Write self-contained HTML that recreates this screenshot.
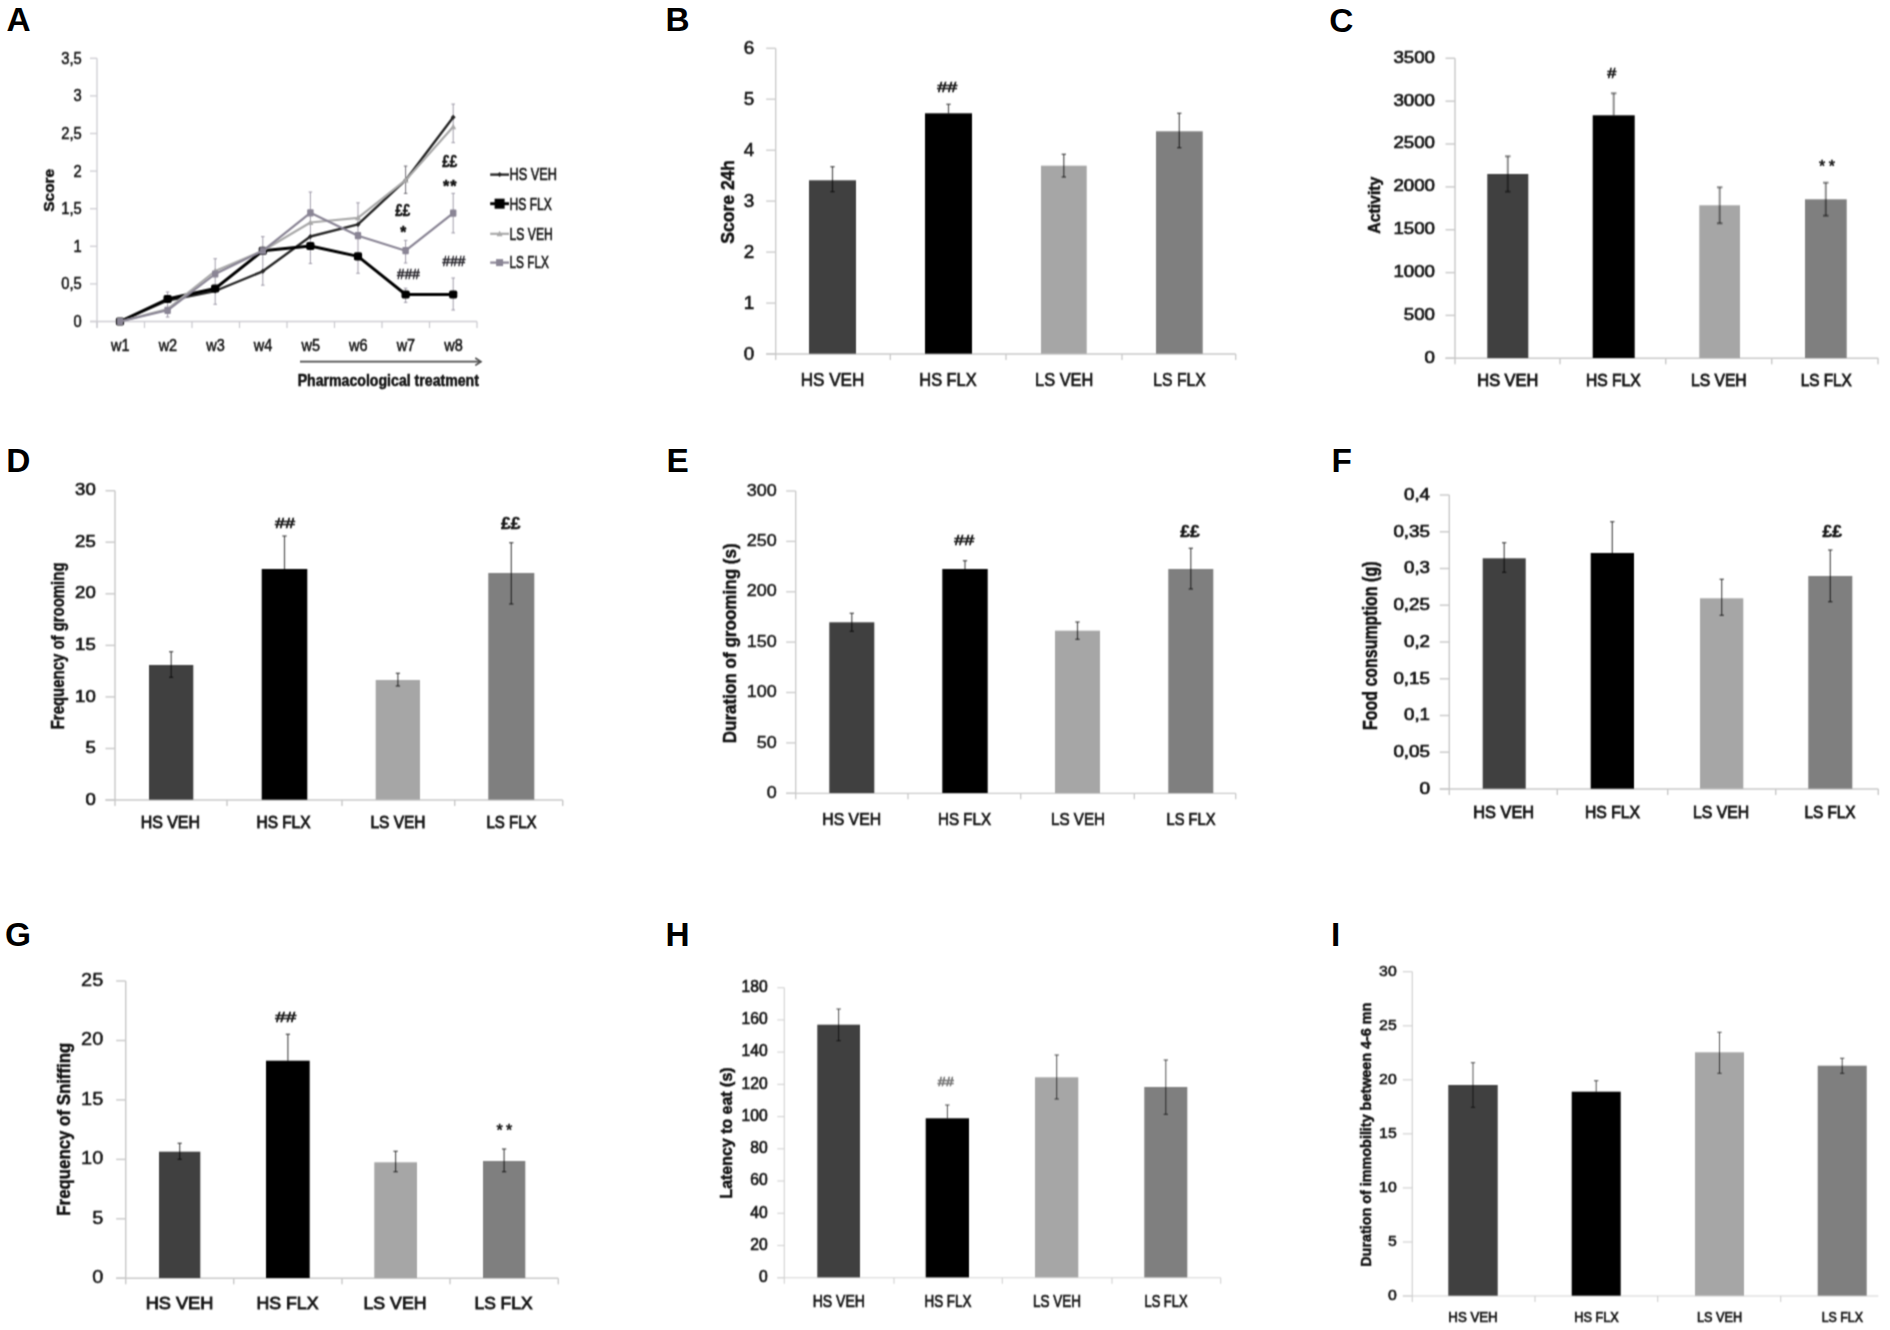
<!DOCTYPE html>
<html lang="en"><head><meta charset="utf-8"><title>Figure: behavioural effects of fluoxetine in HS and LS mice</title>
<style>html,body{margin:0;padding:0;background:#fff;}body{width:1890px;height:1330px;overflow:hidden;}svg{display:block;font-family:'Liberation Sans', Arial, sans-serif;}text{white-space:pre;}</style>
</head><body>
<svg width="1890" height="1330" viewBox="0 0 1890 1330">
<rect x="-10" y="-10" width="1910" height="1350" fill="#fff"/>
<defs><filter id="soft" x="0" y="0" width="1890" height="1330" filterUnits="userSpaceOnUse" color-interpolation-filters="sRGB"><feConvolveMatrix order="3" kernelMatrix="1 3 1 2 6 2 1 3 1" edgeMode="duplicate" preserveAlpha="true"/></filter></defs>
<g filter="url(#soft)">
<rect x="-10" y="-10" width="1910" height="1350" fill="#fff"/>
<g id="panelA">
<line x1="97.0" y1="58.3" x2="97.0" y2="328.0" stroke="#cdccd2" stroke-width="1.3" />
<line x1="90.0" y1="321.5" x2="477.0" y2="321.5" stroke="#cdccd2" stroke-width="1.3" />
<line x1="90.0" y1="58.3" x2="97.0" y2="58.3" stroke="#cdccd2" stroke-width="1.3" />
<text x="81.8" y="63.8" font-size="16.72" text-anchor="end" fill="#151515" stroke="#151515" stroke-width="0.55" textLength="20.5" lengthAdjust="spacingAndGlyphs">3,5</text>
<line x1="90.0" y1="95.9" x2="97.0" y2="95.9" stroke="#cdccd2" stroke-width="1.3" />
<text x="81.8" y="101.4" font-size="16.72" text-anchor="end" fill="#151515" stroke="#151515" stroke-width="0.55" textLength="8.2" lengthAdjust="spacingAndGlyphs">3</text>
<line x1="90.0" y1="133.5" x2="97.0" y2="133.5" stroke="#cdccd2" stroke-width="1.3" />
<text x="81.8" y="138.9" font-size="16.72" text-anchor="end" fill="#151515" stroke="#151515" stroke-width="0.55" textLength="20.5" lengthAdjust="spacingAndGlyphs">2,5</text>
<line x1="90.0" y1="171.1" x2="97.0" y2="171.1" stroke="#cdccd2" stroke-width="1.3" />
<text x="81.8" y="176.5" font-size="16.72" text-anchor="end" fill="#151515" stroke="#151515" stroke-width="0.55" textLength="8.2" lengthAdjust="spacingAndGlyphs">2</text>
<line x1="90.0" y1="208.7" x2="97.0" y2="208.7" stroke="#cdccd2" stroke-width="1.3" />
<text x="81.8" y="214.1" font-size="16.72" text-anchor="end" fill="#151515" stroke="#151515" stroke-width="0.55" textLength="20.5" lengthAdjust="spacingAndGlyphs">1,5</text>
<line x1="90.0" y1="246.3" x2="97.0" y2="246.3" stroke="#cdccd2" stroke-width="1.3" />
<text x="81.8" y="251.8" font-size="16.72" text-anchor="end" fill="#151515" stroke="#151515" stroke-width="0.55" textLength="8.2" lengthAdjust="spacingAndGlyphs">1</text>
<line x1="90.0" y1="283.9" x2="97.0" y2="283.9" stroke="#cdccd2" stroke-width="1.3" />
<text x="81.8" y="289.3" font-size="16.72" text-anchor="end" fill="#151515" stroke="#151515" stroke-width="0.55" textLength="20.5" lengthAdjust="spacingAndGlyphs">0,5</text>
<line x1="90.0" y1="321.5" x2="97.0" y2="321.5" stroke="#cdccd2" stroke-width="1.3" />
<text x="81.8" y="326.9" font-size="16.72" text-anchor="end" fill="#151515" stroke="#151515" stroke-width="0.55" textLength="8.2" lengthAdjust="spacingAndGlyphs">0</text>
<line x1="97.0" y1="321.5" x2="97.0" y2="328.0" stroke="#cdccd2" stroke-width="1.3" />
<line x1="144.5" y1="321.5" x2="144.5" y2="328.0" stroke="#cdccd2" stroke-width="1.3" />
<line x1="192.0" y1="321.5" x2="192.0" y2="328.0" stroke="#cdccd2" stroke-width="1.3" />
<line x1="239.5" y1="321.5" x2="239.5" y2="328.0" stroke="#cdccd2" stroke-width="1.3" />
<line x1="287.0" y1="321.5" x2="287.0" y2="328.0" stroke="#cdccd2" stroke-width="1.3" />
<line x1="334.5" y1="321.5" x2="334.5" y2="328.0" stroke="#cdccd2" stroke-width="1.3" />
<line x1="382.0" y1="321.5" x2="382.0" y2="328.0" stroke="#cdccd2" stroke-width="1.3" />
<line x1="429.5" y1="321.5" x2="429.5" y2="328.0" stroke="#cdccd2" stroke-width="1.3" />
<line x1="477.0" y1="321.5" x2="477.0" y2="328.0" stroke="#cdccd2" stroke-width="1.3" />
<text x="120.3" y="351.0" font-size="16.42" text-anchor="middle" fill="#151515" stroke="#151515" stroke-width="0.55" textLength="18.5" lengthAdjust="spacingAndGlyphs">w1</text>
<text x="167.9" y="351.0" font-size="16.42" text-anchor="middle" fill="#151515" stroke="#151515" stroke-width="0.55" textLength="18.5" lengthAdjust="spacingAndGlyphs">w2</text>
<text x="215.5" y="351.0" font-size="16.42" text-anchor="middle" fill="#151515" stroke="#151515" stroke-width="0.55" textLength="18.5" lengthAdjust="spacingAndGlyphs">w3</text>
<text x="263.1" y="351.0" font-size="16.42" text-anchor="middle" fill="#151515" stroke="#151515" stroke-width="0.55" textLength="18.5" lengthAdjust="spacingAndGlyphs">w4</text>
<text x="310.7" y="351.0" font-size="16.42" text-anchor="middle" fill="#151515" stroke="#151515" stroke-width="0.55" textLength="18.5" lengthAdjust="spacingAndGlyphs">w5</text>
<text x="358.3" y="351.0" font-size="16.42" text-anchor="middle" fill="#151515" stroke="#151515" stroke-width="0.55" textLength="18.5" lengthAdjust="spacingAndGlyphs">w6</text>
<text x="405.9" y="351.0" font-size="16.42" text-anchor="middle" fill="#151515" stroke="#151515" stroke-width="0.55" textLength="18.5" lengthAdjust="spacingAndGlyphs">w7</text>
<text x="453.5" y="351.0" font-size="16.42" text-anchor="middle" fill="#151515" stroke="#151515" stroke-width="0.55" textLength="18.5" lengthAdjust="spacingAndGlyphs">w8</text>
<text transform="translate(54.0 190.3) rotate(-90)" x="0" y="0" font-size="14.53" text-anchor="middle" fill="#111" font-weight="bold" stroke="#111" stroke-width="0.5" textLength="42.7" lengthAdjust="spacingAndGlyphs">Score</text>
<line x1="300.0" y1="361.7" x2="479.5" y2="361.7" stroke="#4a4a4a" stroke-width="1.7" />
<path d="M475.3 358 L481 361.7 L475.3 365.4" fill="none" stroke="#4a4a4a" stroke-width="1.6"/>
<text x="388.3" y="385.5" font-size="15.99" text-anchor="middle" fill="#111" font-weight="bold" stroke="#111" stroke-width="0.5" textLength="181.3" lengthAdjust="spacingAndGlyphs">Pharmacological treatment</text>
<line x1="167.6" y1="292.0" x2="167.6" y2="317.0" stroke="#8d8899" stroke-width="1.1" opacity="0.75"/>
<line x1="165.8" y1="292.0" x2="169.4" y2="292.0" stroke="#8d8899" stroke-width="1.1" opacity="0.75"/>
<line x1="165.8" y1="317.0" x2="169.4" y2="317.0" stroke="#8d8899" stroke-width="1.1" opacity="0.75"/>
<line x1="215.2" y1="258.7" x2="215.2" y2="304.3" stroke="#8d8899" stroke-width="1.1" opacity="0.75"/>
<line x1="213.4" y1="258.7" x2="217.0" y2="258.7" stroke="#8d8899" stroke-width="1.1" opacity="0.75"/>
<line x1="213.4" y1="304.3" x2="217.0" y2="304.3" stroke="#8d8899" stroke-width="1.1" opacity="0.75"/>
<line x1="262.8" y1="236.6" x2="262.8" y2="285.2" stroke="#8d8899" stroke-width="1.1" opacity="0.75"/>
<line x1="261.0" y1="236.6" x2="264.6" y2="236.6" stroke="#8d8899" stroke-width="1.1" opacity="0.75"/>
<line x1="261.0" y1="285.2" x2="264.6" y2="285.2" stroke="#8d8899" stroke-width="1.1" opacity="0.75"/>
<line x1="310.4" y1="192.0" x2="310.4" y2="263.5" stroke="#8d8899" stroke-width="1.1" opacity="0.75"/>
<line x1="308.6" y1="192.0" x2="312.2" y2="192.0" stroke="#8d8899" stroke-width="1.1" opacity="0.75"/>
<line x1="308.6" y1="263.5" x2="312.2" y2="263.5" stroke="#8d8899" stroke-width="1.1" opacity="0.75"/>
<line x1="358.0" y1="202.8" x2="358.0" y2="273.3" stroke="#8d8899" stroke-width="1.1" opacity="0.75"/>
<line x1="356.2" y1="202.8" x2="359.8" y2="202.8" stroke="#8d8899" stroke-width="1.1" opacity="0.75"/>
<line x1="356.2" y1="273.3" x2="359.8" y2="273.3" stroke="#8d8899" stroke-width="1.1" opacity="0.75"/>
<line x1="405.6" y1="166.1" x2="405.6" y2="193.4" stroke="#55525c" stroke-width="1.1" opacity="0.75"/>
<line x1="403.8" y1="166.1" x2="407.4" y2="166.1" stroke="#55525c" stroke-width="1.1" opacity="0.75"/>
<line x1="403.8" y1="193.4" x2="407.4" y2="193.4" stroke="#55525c" stroke-width="1.1" opacity="0.75"/>
<line x1="405.6" y1="240.4" x2="405.6" y2="263.0" stroke="#8d8899" stroke-width="1.1" opacity="0.75"/>
<line x1="403.8" y1="240.4" x2="407.4" y2="240.4" stroke="#8d8899" stroke-width="1.1" opacity="0.75"/>
<line x1="403.8" y1="263.0" x2="407.4" y2="263.0" stroke="#8d8899" stroke-width="1.1" opacity="0.75"/>
<line x1="405.6" y1="288.3" x2="405.6" y2="302.4" stroke="#8d8899" stroke-width="1.1" opacity="0.75"/>
<line x1="403.8" y1="288.3" x2="407.4" y2="288.3" stroke="#8d8899" stroke-width="1.1" opacity="0.75"/>
<line x1="403.8" y1="302.4" x2="407.4" y2="302.4" stroke="#8d8899" stroke-width="1.1" opacity="0.75"/>
<line x1="453.2" y1="104.1" x2="453.2" y2="142.6" stroke="#8d8899" stroke-width="1.1" opacity="0.75"/>
<line x1="451.4" y1="104.1" x2="455.0" y2="104.1" stroke="#8d8899" stroke-width="1.1" opacity="0.75"/>
<line x1="451.4" y1="142.6" x2="455.0" y2="142.6" stroke="#8d8899" stroke-width="1.1" opacity="0.75"/>
<line x1="453.2" y1="193.4" x2="453.2" y2="232.9" stroke="#8d8899" stroke-width="1.1" opacity="0.75"/>
<line x1="451.4" y1="193.4" x2="455.0" y2="193.4" stroke="#8d8899" stroke-width="1.1" opacity="0.75"/>
<line x1="451.4" y1="232.9" x2="455.0" y2="232.9" stroke="#8d8899" stroke-width="1.1" opacity="0.75"/>
<line x1="453.2" y1="278.0" x2="453.2" y2="310.0" stroke="#8d8899" stroke-width="1.1" opacity="0.75"/>
<line x1="451.4" y1="278.0" x2="455.0" y2="278.0" stroke="#8d8899" stroke-width="1.1" opacity="0.75"/>
<line x1="451.4" y1="310.0" x2="455.0" y2="310.0" stroke="#8d8899" stroke-width="1.1" opacity="0.75"/>
<polyline points="120.0,321.5 167.6,300.5 215.2,291.0 262.8,271.3 310.4,236.5 358.0,224.4 405.6,180.2 453.2,117.3" fill="none" stroke="#262626" stroke-width="2.4" stroke-linejoin="round"/>
<path d="M117.5 321.5 L120.0 319.0 L122.5 321.5 L120.0 324.0 Z" fill="#262626"/>
<path d="M165.1 300.5 L167.6 298.0 L170.1 300.5 L167.6 303.0 Z" fill="#262626"/>
<path d="M212.7 291.0 L215.2 288.5 L217.7 291.0 L215.2 293.5 Z" fill="#262626"/>
<path d="M260.3 271.3 L262.8 268.8 L265.3 271.3 L262.8 273.8 Z" fill="#262626"/>
<path d="M307.9 236.5 L310.4 234.0 L312.9 236.5 L310.4 239.0 Z" fill="#262626"/>
<path d="M355.5 224.4 L358.0 221.9 L360.5 224.4 L358.0 226.9 Z" fill="#262626"/>
<path d="M403.1 180.2 L405.6 177.7 L408.1 180.2 L405.6 182.7 Z" fill="#262626"/>
<path d="M450.7 117.3 L453.2 114.8 L455.7 117.3 L453.2 119.8 Z" fill="#262626"/>
<polyline points="120.0,321.5 167.6,299.0 215.2,288.5 262.8,250.8 310.4,246.0 358.0,256.4 405.6,294.5 453.2,294.5" fill="none" stroke="#000" stroke-width="2.9" stroke-linejoin="round"/>
<rect x="115.9" y="317.4" width="8.2" height="8.2" rx="1.8" fill="#000"/>
<rect x="163.5" y="294.9" width="8.2" height="8.2" rx="1.8" fill="#000"/>
<rect x="211.1" y="284.4" width="8.2" height="8.2" rx="1.8" fill="#000"/>
<rect x="258.7" y="246.7" width="8.2" height="8.2" rx="1.8" fill="#000"/>
<rect x="306.3" y="241.9" width="8.2" height="8.2" rx="1.8" fill="#000"/>
<rect x="353.9" y="252.3" width="8.2" height="8.2" rx="1.8" fill="#000"/>
<rect x="401.5" y="290.4" width="8.2" height="8.2" rx="1.8" fill="#000"/>
<rect x="449.1" y="290.4" width="8.2" height="8.2" rx="1.8" fill="#000"/>
<polyline points="120.0,321.5 167.6,309.0 215.2,271.0 262.8,250.8 310.4,222.5 358.0,217.8 405.6,180.2 453.2,126.7" fill="none" stroke="#a9a9a9" stroke-width="2.2" stroke-linejoin="round"/>
<path d="M117.0 324.0 L123.0 324.0 L120.0 318.5 Z" fill="#a9a9a9"/>
<path d="M164.6 311.5 L170.6 311.5 L167.6 306.0 Z" fill="#a9a9a9"/>
<path d="M212.2 273.5 L218.2 273.5 L215.2 268.0 Z" fill="#a9a9a9"/>
<path d="M259.8 253.3 L265.8 253.3 L262.8 247.8 Z" fill="#a9a9a9"/>
<path d="M307.4 225.0 L313.4 225.0 L310.4 219.5 Z" fill="#a9a9a9"/>
<path d="M355.0 220.3 L361.0 220.3 L358.0 214.8 Z" fill="#a9a9a9"/>
<path d="M402.6 182.7 L408.6 182.7 L405.6 177.2 Z" fill="#a9a9a9"/>
<path d="M450.2 129.2 L456.2 129.2 L453.2 123.7 Z" fill="#a9a9a9"/>
<polyline points="120.0,321.5 167.6,310.3 215.2,274.0 262.8,250.8 310.4,212.8 358.0,235.7 405.6,250.7 453.2,213.1" fill="none" stroke="#8a8595" stroke-width="2.2" stroke-linejoin="round"/>
<rect x="116.8" y="317.9" width="6.4" height="7.2" rx="1" fill="#8a8595"/>
<rect x="164.4" y="306.7" width="6.4" height="7.2" rx="1" fill="#8a8595"/>
<rect x="212.0" y="270.4" width="6.4" height="7.2" rx="1" fill="#8a8595"/>
<rect x="259.6" y="247.2" width="6.4" height="7.2" rx="1" fill="#8a8595"/>
<rect x="307.2" y="209.2" width="6.4" height="7.2" rx="1" fill="#8a8595"/>
<rect x="354.8" y="232.1" width="6.4" height="7.2" rx="1" fill="#8a8595"/>
<rect x="402.4" y="247.1" width="6.4" height="7.2" rx="1" fill="#8a8595"/>
<rect x="450.0" y="209.5" width="6.4" height="7.2" rx="1" fill="#8a8595"/>
<text x="449.8" y="167.2" font-size="16.72" text-anchor="middle" fill="#111" font-weight="bold" stroke="#111" stroke-width="0.5" textLength="15.0" lengthAdjust="spacingAndGlyphs">££</text>
<text x="450.3" y="191.6" font-size="15.99" text-anchor="middle" fill="#111" font-weight="bold" stroke="#111" stroke-width="0.5" letter-spacing="1.03">**</text>
<text x="402.8" y="216.1" font-size="16.72" text-anchor="middle" fill="#111" font-weight="bold" stroke="#111" stroke-width="0.5" textLength="15.0" lengthAdjust="spacingAndGlyphs">££</text>
<text x="403.2" y="237.9" font-size="15.99" text-anchor="middle" fill="#111" font-weight="bold" stroke="#111" stroke-width="0.5" textLength="6.0" lengthAdjust="spacingAndGlyphs">*</text>
<text x="408.4" y="279.1" font-size="14.24" text-anchor="middle" fill="#25232a" stroke="#25232a" stroke-width="0.5" textLength="22.6" lengthAdjust="spacingAndGlyphs">###</text>
<text x="453.9" y="265.6" font-size="14.24" text-anchor="middle" fill="#25232a" stroke="#25232a" stroke-width="0.5" textLength="22.6" lengthAdjust="spacingAndGlyphs">###</text>
<line x1="490.2" y1="174.6" x2="509.0" y2="174.6" stroke="#262626" stroke-width="2.4" />
<path d="M497.1 174.6 L499.6 172.1 L502.1 174.6 L499.6 177.1 Z" fill="#262626"/>
<text x="509.5" y="180.4" font-size="16.86" text-anchor="start" fill="#111" stroke="#111" stroke-width="0.6" textLength="47.4" lengthAdjust="spacingAndGlyphs">HS VEH</text>
<line x1="490.2" y1="203.7" x2="509.0" y2="203.7" stroke="#000" stroke-width="2.9" />
<rect x="494.6" y="198.7" width="10.0" height="10.0" fill="#000"/>
<text x="509.5" y="209.5" font-size="16.86" text-anchor="start" fill="#111" stroke="#111" stroke-width="0.6" textLength="42.3" lengthAdjust="spacingAndGlyphs">HS FLX</text>
<line x1="490.2" y1="233.8" x2="509.0" y2="233.8" stroke="#a9a9a9" stroke-width="2.2" />
<path d="M496.6 236.3 L502.6 236.3 L499.6 230.8 Z" fill="#a9a9a9"/>
<text x="509.5" y="239.6" font-size="16.86" text-anchor="start" fill="#111" stroke="#111" stroke-width="0.6" textLength="43.3" lengthAdjust="spacingAndGlyphs">LS VEH</text>
<line x1="490.2" y1="262.6" x2="509.0" y2="262.6" stroke="#8a8595" stroke-width="2.2" />
<rect x="496.1" y="259.1" width="7.0" height="7.0" fill="#8a8595"/>
<text x="509.5" y="268.4" font-size="16.86" text-anchor="start" fill="#111" stroke="#111" stroke-width="0.6" textLength="39.5" lengthAdjust="spacingAndGlyphs">LS FLX</text>
</g>
<g id="panelB">
<line x1="775.7" y1="48.3" x2="775.7" y2="360.0" stroke="#c9c9c9" stroke-width="1.3" />
<line x1="766.2" y1="354.0" x2="1235.7" y2="354.0" stroke="#c9c9c9" stroke-width="1.3" />
<line x1="766.2" y1="48.3" x2="775.7" y2="48.3" stroke="#c9c9c9" stroke-width="1.3" />
<text x="754.3" y="53.9" font-size="19.19" text-anchor="end" fill="#151515" stroke="#151515" stroke-width="0.6" textLength="10.5" lengthAdjust="spacingAndGlyphs">6</text>
<line x1="766.2" y1="99.2" x2="775.7" y2="99.2" stroke="#c9c9c9" stroke-width="1.3" />
<text x="754.3" y="104.8" font-size="19.19" text-anchor="end" fill="#151515" stroke="#151515" stroke-width="0.6" textLength="10.5" lengthAdjust="spacingAndGlyphs">5</text>
<line x1="766.2" y1="150.2" x2="775.7" y2="150.2" stroke="#c9c9c9" stroke-width="1.3" />
<text x="754.3" y="155.8" font-size="19.19" text-anchor="end" fill="#151515" stroke="#151515" stroke-width="0.6" textLength="10.5" lengthAdjust="spacingAndGlyphs">4</text>
<line x1="766.2" y1="201.1" x2="775.7" y2="201.1" stroke="#c9c9c9" stroke-width="1.3" />
<text x="754.3" y="206.7" font-size="19.19" text-anchor="end" fill="#151515" stroke="#151515" stroke-width="0.6" textLength="10.5" lengthAdjust="spacingAndGlyphs">3</text>
<line x1="766.2" y1="252.1" x2="775.7" y2="252.1" stroke="#c9c9c9" stroke-width="1.3" />
<text x="754.3" y="257.7" font-size="19.19" text-anchor="end" fill="#151515" stroke="#151515" stroke-width="0.6" textLength="10.5" lengthAdjust="spacingAndGlyphs">2</text>
<line x1="766.2" y1="303.1" x2="775.7" y2="303.1" stroke="#c9c9c9" stroke-width="1.3" />
<text x="754.3" y="308.7" font-size="19.19" text-anchor="end" fill="#151515" stroke="#151515" stroke-width="0.6" textLength="10.5" lengthAdjust="spacingAndGlyphs">1</text>
<line x1="766.2" y1="354.0" x2="775.7" y2="354.0" stroke="#c9c9c9" stroke-width="1.3" />
<text x="754.3" y="359.6" font-size="19.19" text-anchor="end" fill="#151515" stroke="#151515" stroke-width="0.6" textLength="10.5" lengthAdjust="spacingAndGlyphs">0</text>
<line x1="890.3" y1="354.0" x2="890.3" y2="360.0" stroke="#c9c9c9" stroke-width="1.3" />
<line x1="1006.0" y1="354.0" x2="1006.0" y2="360.0" stroke="#c9c9c9" stroke-width="1.3" />
<line x1="1122.0" y1="354.0" x2="1122.0" y2="360.0" stroke="#c9c9c9" stroke-width="1.3" />
<line x1="1235.7" y1="354.0" x2="1235.7" y2="360.0" stroke="#c9c9c9" stroke-width="1.3" />
<rect x="809.0" y="180.3" width="47.0" height="173.4" fill="#404040"/>
<line x1="832.5" y1="166.7" x2="832.5" y2="191.7" stroke="#000" stroke-width="1.3" opacity="0.62"/>
<line x1="830.3" y1="166.7" x2="834.7" y2="166.7" stroke="#000" stroke-width="1.3" opacity="0.62"/>
<line x1="830.3" y1="191.7" x2="834.7" y2="191.7" stroke="#000" stroke-width="1.3" opacity="0.62"/>
<rect x="925.0" y="113.3" width="47.0" height="240.4" fill="#000000"/>
<line x1="948.5" y1="104.3" x2="948.5" y2="113.3" stroke="#000" stroke-width="1.3" opacity="0.62"/>
<line x1="946.3" y1="104.3" x2="950.7" y2="104.3" stroke="#000" stroke-width="1.3" opacity="0.62"/>
<rect x="1041.0" y="165.7" width="45.7" height="188.0" fill="#a6a6a6"/>
<line x1="1063.8" y1="154.3" x2="1063.8" y2="177.0" stroke="#000" stroke-width="1.3" opacity="0.62"/>
<line x1="1061.6" y1="154.3" x2="1066.0" y2="154.3" stroke="#000" stroke-width="1.3" opacity="0.62"/>
<line x1="1061.6" y1="177.0" x2="1066.0" y2="177.0" stroke="#000" stroke-width="1.3" opacity="0.62"/>
<rect x="1156.0" y="131.3" width="46.7" height="222.4" fill="#7f7f7f"/>
<line x1="1179.3" y1="113.3" x2="1179.3" y2="147.7" stroke="#000" stroke-width="1.3" opacity="0.62"/>
<line x1="1177.1" y1="113.3" x2="1181.5" y2="113.3" stroke="#000" stroke-width="1.3" opacity="0.62"/>
<line x1="1177.1" y1="147.7" x2="1181.5" y2="147.7" stroke="#000" stroke-width="1.3" opacity="0.62"/>
<text x="832.5" y="385.9" font-size="18.46" text-anchor="middle" fill="#151515" stroke="#151515" stroke-width="0.7" textLength="63.7" lengthAdjust="spacingAndGlyphs">HS VEH</text>
<text x="948.0" y="385.9" font-size="18.46" text-anchor="middle" fill="#151515" stroke="#151515" stroke-width="0.7" textLength="57.3" lengthAdjust="spacingAndGlyphs">HS FLX</text>
<text x="1064.2" y="385.9" font-size="18.46" text-anchor="middle" fill="#151515" stroke="#151515" stroke-width="0.7" textLength="58.3" lengthAdjust="spacingAndGlyphs">LS VEH</text>
<text x="1179.5" y="385.9" font-size="18.46" text-anchor="middle" fill="#151515" stroke="#151515" stroke-width="0.7" textLength="52.3" lengthAdjust="spacingAndGlyphs">LS FLX</text>
<text transform="translate(733.7 201.8) rotate(-90)" x="0" y="0" font-size="19.19" text-anchor="middle" fill="#111" font-weight="bold" stroke="#111" stroke-width="0.5" textLength="83.7" lengthAdjust="spacingAndGlyphs">Score 24h</text>
<text x="947.3" y="91.7" font-size="14.53" text-anchor="middle" fill="#151515" stroke="#151515" stroke-width="0.6" textLength="20.0" lengthAdjust="spacingAndGlyphs">##</text>
</g>
<g id="panelC">
<line x1="1455.0" y1="58.3" x2="1455.0" y2="364.3" stroke="#c9c9c9" stroke-width="1.45" />
<line x1="1445.5" y1="358.3" x2="1878.3" y2="358.3" stroke="#c9c9c9" stroke-width="1.45" />
<line x1="1445.5" y1="58.3" x2="1455.0" y2="58.3" stroke="#c9c9c9" stroke-width="1.45" />
<text x="1435.0" y="62.6" font-size="16.42" text-anchor="end" fill="#151515" stroke="#151515" stroke-width="0.7" textLength="41.6" lengthAdjust="spacingAndGlyphs">3500</text>
<line x1="1445.5" y1="101.2" x2="1455.0" y2="101.2" stroke="#c9c9c9" stroke-width="1.45" />
<text x="1435.0" y="105.5" font-size="16.42" text-anchor="end" fill="#151515" stroke="#151515" stroke-width="0.7" textLength="41.6" lengthAdjust="spacingAndGlyphs">3000</text>
<line x1="1445.5" y1="144.0" x2="1455.0" y2="144.0" stroke="#c9c9c9" stroke-width="1.45" />
<text x="1435.0" y="148.4" font-size="16.42" text-anchor="end" fill="#151515" stroke="#151515" stroke-width="0.7" textLength="41.6" lengthAdjust="spacingAndGlyphs">2500</text>
<line x1="1445.5" y1="186.9" x2="1455.0" y2="186.9" stroke="#c9c9c9" stroke-width="1.45" />
<text x="1435.0" y="191.2" font-size="16.42" text-anchor="end" fill="#151515" stroke="#151515" stroke-width="0.7" textLength="41.6" lengthAdjust="spacingAndGlyphs">2000</text>
<line x1="1445.5" y1="229.7" x2="1455.0" y2="229.7" stroke="#c9c9c9" stroke-width="1.45" />
<text x="1435.0" y="234.1" font-size="16.42" text-anchor="end" fill="#151515" stroke="#151515" stroke-width="0.7" textLength="41.6" lengthAdjust="spacingAndGlyphs">1500</text>
<line x1="1445.5" y1="272.6" x2="1455.0" y2="272.6" stroke="#c9c9c9" stroke-width="1.45" />
<text x="1435.0" y="276.9" font-size="16.42" text-anchor="end" fill="#151515" stroke="#151515" stroke-width="0.7" textLength="41.6" lengthAdjust="spacingAndGlyphs">1000</text>
<line x1="1445.5" y1="315.4" x2="1455.0" y2="315.4" stroke="#c9c9c9" stroke-width="1.45" />
<text x="1435.0" y="319.8" font-size="16.42" text-anchor="end" fill="#151515" stroke="#151515" stroke-width="0.7" textLength="31.2" lengthAdjust="spacingAndGlyphs">500</text>
<line x1="1445.5" y1="358.3" x2="1455.0" y2="358.3" stroke="#c9c9c9" stroke-width="1.45" />
<text x="1435.0" y="362.6" font-size="16.42" text-anchor="end" fill="#151515" stroke="#151515" stroke-width="0.7" textLength="10.4" lengthAdjust="spacingAndGlyphs">0</text>
<line x1="1560.0" y1="358.3" x2="1560.0" y2="364.3" stroke="#c9c9c9" stroke-width="1.45" />
<line x1="1665.7" y1="358.3" x2="1665.7" y2="364.3" stroke="#c9c9c9" stroke-width="1.45" />
<line x1="1771.7" y1="358.3" x2="1771.7" y2="364.3" stroke="#c9c9c9" stroke-width="1.45" />
<line x1="1878.0" y1="358.3" x2="1878.0" y2="364.3" stroke="#c9c9c9" stroke-width="1.45" />
<rect x="1487.3" y="174.0" width="41.0" height="184.0" fill="#404040"/>
<line x1="1507.8" y1="156.3" x2="1507.8" y2="191.7" stroke="#000" stroke-width="2.1" opacity="0.42"/>
<line x1="1505.0" y1="156.3" x2="1510.6" y2="156.3" stroke="#000" stroke-width="2.1" opacity="0.42"/>
<line x1="1505.0" y1="191.7" x2="1510.6" y2="191.7" stroke="#000" stroke-width="2.1" opacity="0.42"/>
<rect x="1592.7" y="115.3" width="42.0" height="242.7" fill="#000000"/>
<line x1="1613.7" y1="93.3" x2="1613.7" y2="115.3" stroke="#000" stroke-width="2.1" opacity="0.42"/>
<line x1="1610.9" y1="93.3" x2="1616.5" y2="93.3" stroke="#000" stroke-width="2.1" opacity="0.42"/>
<rect x="1699.3" y="205.3" width="40.7" height="152.7" fill="#a6a6a6"/>
<line x1="1719.7" y1="187.3" x2="1719.7" y2="223.3" stroke="#000" stroke-width="2.1" opacity="0.42"/>
<line x1="1716.9" y1="187.3" x2="1722.5" y2="187.3" stroke="#000" stroke-width="2.1" opacity="0.42"/>
<line x1="1716.9" y1="223.3" x2="1722.5" y2="223.3" stroke="#000" stroke-width="2.1" opacity="0.42"/>
<rect x="1805.0" y="199.3" width="41.7" height="158.7" fill="#7f7f7f"/>
<line x1="1825.8" y1="182.7" x2="1825.8" y2="215.7" stroke="#000" stroke-width="2.1" opacity="0.42"/>
<line x1="1823.0" y1="182.7" x2="1828.6" y2="182.7" stroke="#000" stroke-width="2.1" opacity="0.42"/>
<line x1="1823.0" y1="215.7" x2="1828.6" y2="215.7" stroke="#000" stroke-width="2.1" opacity="0.42"/>
<text x="1507.8" y="386.4" font-size="17.01" text-anchor="middle" fill="#151515" stroke="#151515" stroke-width="0.85" textLength="61.0" lengthAdjust="spacingAndGlyphs">HS VEH</text>
<text x="1613.3" y="386.4" font-size="17.01" text-anchor="middle" fill="#151515" stroke="#151515" stroke-width="0.85" textLength="54.7" lengthAdjust="spacingAndGlyphs">HS FLX</text>
<text x="1718.8" y="386.4" font-size="17.01" text-anchor="middle" fill="#151515" stroke="#151515" stroke-width="0.85" textLength="55.7" lengthAdjust="spacingAndGlyphs">LS VEH</text>
<text x="1826.2" y="386.4" font-size="17.01" text-anchor="middle" fill="#151515" stroke="#151515" stroke-width="0.85" textLength="51.0" lengthAdjust="spacingAndGlyphs">LS FLX</text>
<text transform="translate(1379.5 205.2) rotate(-90)" x="0" y="0" font-size="16.57" text-anchor="middle" fill="#111" font-weight="bold" stroke="#111" stroke-width="0.5" textLength="57.1" lengthAdjust="spacingAndGlyphs">Activity</text>
<text x="1611.7" y="78.3" font-size="14.53" text-anchor="middle" fill="#151515" stroke="#151515" stroke-width="0.6" textLength="9.0" lengthAdjust="spacingAndGlyphs">#</text>
<text x="1828.8" y="171.5" font-size="15.99" text-anchor="middle" fill="#151515" stroke="#151515" stroke-width="0.6" letter-spacing="3.53">**</text>
</g>
<g id="panelD">
<line x1="115.0" y1="490.7" x2="115.0" y2="806.0" stroke="#c9c9c9" stroke-width="1.45" />
<line x1="105.5" y1="800.0" x2="562.7" y2="800.0" stroke="#c9c9c9" stroke-width="1.45" />
<line x1="105.5" y1="490.7" x2="115.0" y2="490.7" stroke="#c9c9c9" stroke-width="1.45" />
<text x="95.7" y="495.4" font-size="17.01" text-anchor="end" fill="#151515" stroke="#151515" stroke-width="0.7" textLength="20.6" lengthAdjust="spacingAndGlyphs">30</text>
<line x1="105.5" y1="542.2" x2="115.0" y2="542.2" stroke="#c9c9c9" stroke-width="1.45" />
<text x="95.7" y="546.9" font-size="17.01" text-anchor="end" fill="#151515" stroke="#151515" stroke-width="0.7" textLength="20.6" lengthAdjust="spacingAndGlyphs">25</text>
<line x1="105.5" y1="593.8" x2="115.0" y2="593.8" stroke="#c9c9c9" stroke-width="1.45" />
<text x="95.7" y="598.4" font-size="17.01" text-anchor="end" fill="#151515" stroke="#151515" stroke-width="0.7" textLength="20.6" lengthAdjust="spacingAndGlyphs">20</text>
<line x1="105.5" y1="645.4" x2="115.0" y2="645.4" stroke="#c9c9c9" stroke-width="1.45" />
<text x="95.7" y="650.0" font-size="17.01" text-anchor="end" fill="#151515" stroke="#151515" stroke-width="0.7" textLength="20.6" lengthAdjust="spacingAndGlyphs">15</text>
<line x1="105.5" y1="696.9" x2="115.0" y2="696.9" stroke="#c9c9c9" stroke-width="1.45" />
<text x="95.7" y="701.5" font-size="17.01" text-anchor="end" fill="#151515" stroke="#151515" stroke-width="0.7" textLength="20.6" lengthAdjust="spacingAndGlyphs">10</text>
<line x1="105.5" y1="748.5" x2="115.0" y2="748.5" stroke="#c9c9c9" stroke-width="1.45" />
<text x="95.7" y="753.1" font-size="17.01" text-anchor="end" fill="#151515" stroke="#151515" stroke-width="0.7" textLength="10.3" lengthAdjust="spacingAndGlyphs">5</text>
<line x1="105.5" y1="800.0" x2="115.0" y2="800.0" stroke="#c9c9c9" stroke-width="1.45" />
<text x="95.7" y="804.6" font-size="17.01" text-anchor="end" fill="#151515" stroke="#151515" stroke-width="0.7" textLength="10.3" lengthAdjust="spacingAndGlyphs">0</text>
<line x1="227.0" y1="800.0" x2="227.0" y2="806.0" stroke="#c9c9c9" stroke-width="1.45" />
<line x1="342.0" y1="800.0" x2="342.0" y2="806.0" stroke="#c9c9c9" stroke-width="1.45" />
<line x1="454.7" y1="800.0" x2="454.7" y2="806.0" stroke="#c9c9c9" stroke-width="1.45" />
<line x1="562.7" y1="800.0" x2="562.7" y2="806.0" stroke="#c9c9c9" stroke-width="1.45" />
<rect x="149.0" y="665.0" width="44.3" height="134.7" fill="#404040"/>
<line x1="171.2" y1="651.7" x2="171.2" y2="677.3" stroke="#000" stroke-width="1.3" opacity="0.62"/>
<line x1="169.0" y1="651.7" x2="173.3" y2="651.7" stroke="#000" stroke-width="1.3" opacity="0.62"/>
<line x1="169.0" y1="677.3" x2="173.3" y2="677.3" stroke="#000" stroke-width="1.3" opacity="0.62"/>
<rect x="261.7" y="569.0" width="45.6" height="230.7" fill="#000000"/>
<line x1="284.5" y1="536.0" x2="284.5" y2="569.0" stroke="#000" stroke-width="1.3" opacity="0.62"/>
<line x1="282.3" y1="536.0" x2="286.7" y2="536.0" stroke="#000" stroke-width="1.3" opacity="0.62"/>
<rect x="375.7" y="680.0" width="44.3" height="119.7" fill="#a6a6a6"/>
<line x1="397.9" y1="673.3" x2="397.9" y2="686.0" stroke="#000" stroke-width="1.3" opacity="0.62"/>
<line x1="395.7" y1="673.3" x2="400.1" y2="673.3" stroke="#000" stroke-width="1.3" opacity="0.62"/>
<line x1="395.7" y1="686.0" x2="400.1" y2="686.0" stroke="#000" stroke-width="1.3" opacity="0.62"/>
<rect x="488.3" y="573.0" width="46.0" height="226.7" fill="#7f7f7f"/>
<line x1="511.3" y1="542.7" x2="511.3" y2="604.0" stroke="#000" stroke-width="1.3" opacity="0.62"/>
<line x1="509.1" y1="542.7" x2="513.5" y2="542.7" stroke="#000" stroke-width="1.3" opacity="0.62"/>
<line x1="509.1" y1="604.0" x2="513.5" y2="604.0" stroke="#000" stroke-width="1.3" opacity="0.62"/>
<text x="170.3" y="828.4" font-size="16.42" text-anchor="middle" fill="#151515" stroke="#151515" stroke-width="0.85" textLength="59.3" lengthAdjust="spacingAndGlyphs">HS VEH</text>
<text x="283.5" y="828.4" font-size="16.42" text-anchor="middle" fill="#151515" stroke="#151515" stroke-width="0.85" textLength="54.0" lengthAdjust="spacingAndGlyphs">HS FLX</text>
<text x="398.0" y="828.4" font-size="16.42" text-anchor="middle" fill="#151515" stroke="#151515" stroke-width="0.85" textLength="55.0" lengthAdjust="spacingAndGlyphs">LS VEH</text>
<text x="511.5" y="828.4" font-size="16.42" text-anchor="middle" fill="#151515" stroke="#151515" stroke-width="0.85" textLength="50.0" lengthAdjust="spacingAndGlyphs">LS FLX</text>
<text transform="translate(64.2 645.9) rotate(-90)" x="0" y="0" font-size="19.04" text-anchor="middle" fill="#111" font-weight="bold" stroke="#111" stroke-width="0.5" textLength="166.8" lengthAdjust="spacingAndGlyphs">Frequency of grooming</text>
<text x="285.0" y="528.3" font-size="14.53" text-anchor="middle" fill="#151515" stroke="#151515" stroke-width="0.6" textLength="20.0" lengthAdjust="spacingAndGlyphs">##</text>
<text x="510.7" y="528.8" font-size="16.72" text-anchor="middle" fill="#151515" font-weight="bold" stroke="#151515" stroke-width="0.5" textLength="19.5" lengthAdjust="spacingAndGlyphs">££</text>
</g>
<g id="panelE">
<line x1="795.7" y1="491.0" x2="795.7" y2="799.3" stroke="#c9c9c9" stroke-width="1.3" />
<line x1="786.2" y1="793.3" x2="1235.7" y2="793.3" stroke="#c9c9c9" stroke-width="1.3" />
<line x1="786.2" y1="491.0" x2="795.7" y2="491.0" stroke="#c9c9c9" stroke-width="1.3" />
<text x="776.7" y="495.6" font-size="16.72" text-anchor="end" fill="#151515" stroke="#151515" stroke-width="0.45" textLength="30.0" lengthAdjust="spacingAndGlyphs">300</text>
<line x1="786.2" y1="541.4" x2="795.7" y2="541.4" stroke="#c9c9c9" stroke-width="1.3" />
<text x="776.7" y="545.9" font-size="16.72" text-anchor="end" fill="#151515" stroke="#151515" stroke-width="0.45" textLength="30.0" lengthAdjust="spacingAndGlyphs">250</text>
<line x1="786.2" y1="591.8" x2="795.7" y2="591.8" stroke="#c9c9c9" stroke-width="1.3" />
<text x="776.7" y="596.3" font-size="16.72" text-anchor="end" fill="#151515" stroke="#151515" stroke-width="0.45" textLength="30.0" lengthAdjust="spacingAndGlyphs">200</text>
<line x1="786.2" y1="642.1" x2="795.7" y2="642.1" stroke="#c9c9c9" stroke-width="1.3" />
<text x="776.7" y="646.7" font-size="16.72" text-anchor="end" fill="#151515" stroke="#151515" stroke-width="0.45" textLength="30.0" lengthAdjust="spacingAndGlyphs">150</text>
<line x1="786.2" y1="692.5" x2="795.7" y2="692.5" stroke="#c9c9c9" stroke-width="1.3" />
<text x="776.7" y="697.1" font-size="16.72" text-anchor="end" fill="#151515" stroke="#151515" stroke-width="0.45" textLength="30.0" lengthAdjust="spacingAndGlyphs">100</text>
<line x1="786.2" y1="742.9" x2="795.7" y2="742.9" stroke="#c9c9c9" stroke-width="1.3" />
<text x="776.7" y="747.5" font-size="16.72" text-anchor="end" fill="#151515" stroke="#151515" stroke-width="0.45" textLength="20.0" lengthAdjust="spacingAndGlyphs">50</text>
<line x1="786.2" y1="793.3" x2="795.7" y2="793.3" stroke="#c9c9c9" stroke-width="1.3" />
<text x="776.7" y="797.8" font-size="16.72" text-anchor="end" fill="#151515" stroke="#151515" stroke-width="0.45" textLength="10.0" lengthAdjust="spacingAndGlyphs">0</text>
<line x1="908.0" y1="793.3" x2="908.0" y2="799.3" stroke="#c9c9c9" stroke-width="1.3" />
<line x1="1020.7" y1="793.3" x2="1020.7" y2="799.3" stroke="#c9c9c9" stroke-width="1.3" />
<line x1="1134.3" y1="793.3" x2="1134.3" y2="799.3" stroke="#c9c9c9" stroke-width="1.3" />
<line x1="1235.7" y1="793.3" x2="1235.7" y2="799.3" stroke="#c9c9c9" stroke-width="1.3" />
<rect x="829.3" y="622.3" width="45.0" height="170.7" fill="#404040"/>
<line x1="851.8" y1="613.3" x2="851.8" y2="631.3" stroke="#000" stroke-width="1.3" opacity="0.62"/>
<line x1="849.6" y1="613.3" x2="854.0" y2="613.3" stroke="#000" stroke-width="1.3" opacity="0.62"/>
<line x1="849.6" y1="631.3" x2="854.0" y2="631.3" stroke="#000" stroke-width="1.3" opacity="0.62"/>
<rect x="942.3" y="569.0" width="45.4" height="224.0" fill="#000000"/>
<line x1="965.0" y1="560.7" x2="965.0" y2="569.0" stroke="#000" stroke-width="1.3" opacity="0.62"/>
<line x1="962.8" y1="560.7" x2="967.2" y2="560.7" stroke="#000" stroke-width="1.3" opacity="0.62"/>
<rect x="1055.0" y="630.7" width="45.0" height="162.3" fill="#a6a6a6"/>
<line x1="1077.5" y1="622.0" x2="1077.5" y2="639.3" stroke="#000" stroke-width="1.3" opacity="0.62"/>
<line x1="1075.3" y1="622.0" x2="1079.7" y2="622.0" stroke="#000" stroke-width="1.3" opacity="0.62"/>
<line x1="1075.3" y1="639.3" x2="1079.7" y2="639.3" stroke="#000" stroke-width="1.3" opacity="0.62"/>
<rect x="1168.3" y="569.0" width="45.0" height="224.0" fill="#7f7f7f"/>
<line x1="1190.8" y1="548.3" x2="1190.8" y2="589.0" stroke="#000" stroke-width="1.3" opacity="0.62"/>
<line x1="1188.6" y1="548.3" x2="1193.0" y2="548.3" stroke="#000" stroke-width="1.3" opacity="0.62"/>
<line x1="1188.6" y1="589.0" x2="1193.0" y2="589.0" stroke="#000" stroke-width="1.3" opacity="0.62"/>
<text x="851.7" y="824.6" font-size="17.01" text-anchor="middle" fill="#151515" stroke="#151515" stroke-width="0.7" textLength="58.7" lengthAdjust="spacingAndGlyphs">HS VEH</text>
<text x="964.5" y="824.6" font-size="17.01" text-anchor="middle" fill="#151515" stroke="#151515" stroke-width="0.7" textLength="53.0" lengthAdjust="spacingAndGlyphs">HS FLX</text>
<text x="1078.0" y="824.6" font-size="17.01" text-anchor="middle" fill="#151515" stroke="#151515" stroke-width="0.7" textLength="54.0" lengthAdjust="spacingAndGlyphs">LS VEH</text>
<text x="1191.0" y="824.6" font-size="17.01" text-anchor="middle" fill="#151515" stroke="#151515" stroke-width="0.7" textLength="49.0" lengthAdjust="spacingAndGlyphs">LS FLX</text>
<text transform="translate(735.6 643.3) rotate(-90)" x="0" y="0" font-size="19.19" text-anchor="middle" fill="#111" font-weight="bold" stroke="#111" stroke-width="0.5" textLength="200.0" lengthAdjust="spacingAndGlyphs">Duration of grooming (s)</text>
<text x="964.3" y="545.0" font-size="14.53" text-anchor="middle" fill="#151515" stroke="#151515" stroke-width="0.6" textLength="20.0" lengthAdjust="spacingAndGlyphs">##</text>
<text x="1190.0" y="537.1" font-size="16.72" text-anchor="middle" fill="#151515" font-weight="bold" stroke="#151515" stroke-width="0.5" textLength="19.5" lengthAdjust="spacingAndGlyphs">££</text>
</g>
<g id="panelF">
<line x1="1449.3" y1="495.0" x2="1449.3" y2="795.0" stroke="#c9c9c9" stroke-width="1.45" />
<line x1="1439.8" y1="789.0" x2="1878.3" y2="789.0" stroke="#c9c9c9" stroke-width="1.45" />
<line x1="1439.8" y1="495.0" x2="1449.3" y2="495.0" stroke="#c9c9c9" stroke-width="1.45" />
<text x="1430.0" y="499.8" font-size="16.42" text-anchor="end" fill="#151515" stroke="#151515" stroke-width="0.7" textLength="26.0" lengthAdjust="spacingAndGlyphs">0,4</text>
<line x1="1439.8" y1="531.8" x2="1449.3" y2="531.8" stroke="#c9c9c9" stroke-width="1.45" />
<text x="1430.0" y="536.6" font-size="16.42" text-anchor="end" fill="#151515" stroke="#151515" stroke-width="0.7" textLength="36.6" lengthAdjust="spacingAndGlyphs">0,35</text>
<line x1="1439.8" y1="568.5" x2="1449.3" y2="568.5" stroke="#c9c9c9" stroke-width="1.45" />
<text x="1430.0" y="573.4" font-size="16.42" text-anchor="end" fill="#151515" stroke="#151515" stroke-width="0.7" textLength="26.0" lengthAdjust="spacingAndGlyphs">0,3</text>
<line x1="1439.8" y1="605.2" x2="1449.3" y2="605.2" stroke="#c9c9c9" stroke-width="1.45" />
<text x="1430.0" y="610.1" font-size="16.42" text-anchor="end" fill="#151515" stroke="#151515" stroke-width="0.7" textLength="36.6" lengthAdjust="spacingAndGlyphs">0,25</text>
<line x1="1439.8" y1="642.0" x2="1449.3" y2="642.0" stroke="#c9c9c9" stroke-width="1.45" />
<text x="1430.0" y="646.9" font-size="16.42" text-anchor="end" fill="#151515" stroke="#151515" stroke-width="0.7" textLength="26.0" lengthAdjust="spacingAndGlyphs">0,2</text>
<line x1="1439.8" y1="678.8" x2="1449.3" y2="678.8" stroke="#c9c9c9" stroke-width="1.45" />
<text x="1430.0" y="683.6" font-size="16.42" text-anchor="end" fill="#151515" stroke="#151515" stroke-width="0.7" textLength="36.6" lengthAdjust="spacingAndGlyphs">0,15</text>
<line x1="1439.8" y1="715.5" x2="1449.3" y2="715.5" stroke="#c9c9c9" stroke-width="1.45" />
<text x="1430.0" y="720.4" font-size="16.42" text-anchor="end" fill="#151515" stroke="#151515" stroke-width="0.7" textLength="26.0" lengthAdjust="spacingAndGlyphs">0,1</text>
<line x1="1439.8" y1="752.2" x2="1449.3" y2="752.2" stroke="#c9c9c9" stroke-width="1.45" />
<text x="1430.0" y="757.1" font-size="16.42" text-anchor="end" fill="#151515" stroke="#151515" stroke-width="0.7" textLength="36.6" lengthAdjust="spacingAndGlyphs">0,05</text>
<line x1="1439.8" y1="789.0" x2="1449.3" y2="789.0" stroke="#c9c9c9" stroke-width="1.45" />
<text x="1430.0" y="793.9" font-size="16.42" text-anchor="end" fill="#151515" stroke="#151515" stroke-width="0.7" textLength="10.6" lengthAdjust="spacingAndGlyphs">0</text>
<line x1="1557.3" y1="789.0" x2="1557.3" y2="795.0" stroke="#c9c9c9" stroke-width="1.45" />
<line x1="1667.7" y1="789.0" x2="1667.7" y2="795.0" stroke="#c9c9c9" stroke-width="1.45" />
<line x1="1775.7" y1="789.0" x2="1775.7" y2="795.0" stroke="#c9c9c9" stroke-width="1.45" />
<line x1="1878.3" y1="789.0" x2="1878.3" y2="795.0" stroke="#c9c9c9" stroke-width="1.45" />
<rect x="1482.7" y="558.3" width="43.0" height="230.4" fill="#404040"/>
<line x1="1504.2" y1="542.7" x2="1504.2" y2="572.3" stroke="#000" stroke-width="1.3" opacity="0.62"/>
<line x1="1502.0" y1="542.7" x2="1506.4" y2="542.7" stroke="#000" stroke-width="1.3" opacity="0.62"/>
<line x1="1502.0" y1="572.3" x2="1506.4" y2="572.3" stroke="#000" stroke-width="1.3" opacity="0.62"/>
<rect x="1590.7" y="553.0" width="43.3" height="235.7" fill="#000000"/>
<line x1="1612.3" y1="521.7" x2="1612.3" y2="553.0" stroke="#000" stroke-width="1.3" opacity="0.62"/>
<line x1="1610.1" y1="521.7" x2="1614.5" y2="521.7" stroke="#000" stroke-width="1.3" opacity="0.62"/>
<rect x="1700.0" y="598.3" width="43.3" height="190.4" fill="#a6a6a6"/>
<line x1="1721.7" y1="579.3" x2="1721.7" y2="615.3" stroke="#000" stroke-width="1.3" opacity="0.62"/>
<line x1="1719.5" y1="579.3" x2="1723.9" y2="579.3" stroke="#000" stroke-width="1.3" opacity="0.62"/>
<line x1="1719.5" y1="615.3" x2="1723.9" y2="615.3" stroke="#000" stroke-width="1.3" opacity="0.62"/>
<rect x="1808.3" y="576.0" width="44.0" height="212.7" fill="#7f7f7f"/>
<line x1="1830.3" y1="550.0" x2="1830.3" y2="601.7" stroke="#000" stroke-width="1.3" opacity="0.62"/>
<line x1="1828.1" y1="550.0" x2="1832.5" y2="550.0" stroke="#000" stroke-width="1.3" opacity="0.62"/>
<line x1="1828.1" y1="601.7" x2="1832.5" y2="601.7" stroke="#000" stroke-width="1.3" opacity="0.62"/>
<text x="1503.7" y="817.5" font-size="16.72" text-anchor="middle" fill="#151515" stroke="#151515" stroke-width="0.85" textLength="60.7" lengthAdjust="spacingAndGlyphs">HS VEH</text>
<text x="1612.5" y="817.5" font-size="16.72" text-anchor="middle" fill="#151515" stroke="#151515" stroke-width="0.85" textLength="55.0" lengthAdjust="spacingAndGlyphs">HS FLX</text>
<text x="1721.0" y="817.5" font-size="16.72" text-anchor="middle" fill="#151515" stroke="#151515" stroke-width="0.85" textLength="56.0" lengthAdjust="spacingAndGlyphs">LS VEH</text>
<text x="1830.0" y="817.5" font-size="16.72" text-anchor="middle" fill="#151515" stroke="#151515" stroke-width="0.85" textLength="51.0" lengthAdjust="spacingAndGlyphs">LS FLX</text>
<text transform="translate(1377.1 645.8) rotate(-90)" x="0" y="0" font-size="19.77" text-anchor="middle" fill="#111" font-weight="bold" stroke="#111" stroke-width="0.5" textLength="168.5" lengthAdjust="spacingAndGlyphs">Food consumption (g)</text>
<text x="1832.3" y="537.1" font-size="16.72" text-anchor="middle" fill="#151515" font-weight="bold" stroke="#151515" stroke-width="0.5" textLength="19.5" lengthAdjust="spacingAndGlyphs">££</text>
</g>
<g id="panelG">
<line x1="125.7" y1="981.0" x2="125.7" y2="1284.3" stroke="#c9c9c9" stroke-width="1.45" />
<line x1="116.2" y1="1278.3" x2="558.3" y2="1278.3" stroke="#c9c9c9" stroke-width="1.45" />
<line x1="116.2" y1="981.0" x2="125.7" y2="981.0" stroke="#c9c9c9" stroke-width="1.45" />
<text x="103.3" y="985.8" font-size="17.59" text-anchor="end" fill="#151515" stroke="#151515" stroke-width="0.45" textLength="22.2" lengthAdjust="spacingAndGlyphs">25</text>
<line x1="116.2" y1="1040.5" x2="125.7" y2="1040.5" stroke="#c9c9c9" stroke-width="1.45" />
<text x="103.3" y="1045.3" font-size="17.59" text-anchor="end" fill="#151515" stroke="#151515" stroke-width="0.45" textLength="22.2" lengthAdjust="spacingAndGlyphs">20</text>
<line x1="116.2" y1="1099.9" x2="125.7" y2="1099.9" stroke="#c9c9c9" stroke-width="1.45" />
<text x="103.3" y="1104.8" font-size="17.59" text-anchor="end" fill="#151515" stroke="#151515" stroke-width="0.45" textLength="22.2" lengthAdjust="spacingAndGlyphs">15</text>
<line x1="116.2" y1="1159.4" x2="125.7" y2="1159.4" stroke="#c9c9c9" stroke-width="1.45" />
<text x="103.3" y="1164.2" font-size="17.59" text-anchor="end" fill="#151515" stroke="#151515" stroke-width="0.45" textLength="22.2" lengthAdjust="spacingAndGlyphs">10</text>
<line x1="116.2" y1="1218.8" x2="125.7" y2="1218.8" stroke="#c9c9c9" stroke-width="1.45" />
<text x="103.3" y="1223.7" font-size="17.59" text-anchor="end" fill="#151515" stroke="#151515" stroke-width="0.45" textLength="11.1" lengthAdjust="spacingAndGlyphs">5</text>
<line x1="116.2" y1="1278.3" x2="125.7" y2="1278.3" stroke="#c9c9c9" stroke-width="1.45" />
<text x="103.3" y="1283.1" font-size="17.59" text-anchor="end" fill="#151515" stroke="#151515" stroke-width="0.45" textLength="11.1" lengthAdjust="spacingAndGlyphs">0</text>
<line x1="233.7" y1="1278.3" x2="233.7" y2="1284.3" stroke="#c9c9c9" stroke-width="1.45" />
<line x1="342.0" y1="1278.3" x2="342.0" y2="1284.3" stroke="#c9c9c9" stroke-width="1.45" />
<line x1="450.0" y1="1278.3" x2="450.0" y2="1284.3" stroke="#c9c9c9" stroke-width="1.45" />
<line x1="558.3" y1="1278.3" x2="558.3" y2="1284.3" stroke="#c9c9c9" stroke-width="1.45" />
<rect x="159.0" y="1151.7" width="41.3" height="126.3" fill="#404040"/>
<line x1="179.7" y1="1143.3" x2="179.7" y2="1159.3" stroke="#000" stroke-width="1.3" opacity="0.62"/>
<line x1="177.5" y1="1143.3" x2="181.8" y2="1143.3" stroke="#000" stroke-width="1.3" opacity="0.62"/>
<line x1="177.5" y1="1159.3" x2="181.8" y2="1159.3" stroke="#000" stroke-width="1.3" opacity="0.62"/>
<rect x="266.0" y="1060.7" width="43.7" height="217.3" fill="#000000"/>
<line x1="287.9" y1="1034.3" x2="287.9" y2="1060.7" stroke="#000" stroke-width="1.3" opacity="0.62"/>
<line x1="285.7" y1="1034.3" x2="290.1" y2="1034.3" stroke="#000" stroke-width="1.3" opacity="0.62"/>
<rect x="374.3" y="1162.3" width="42.7" height="115.7" fill="#a6a6a6"/>
<line x1="395.6" y1="1151.3" x2="395.6" y2="1171.7" stroke="#000" stroke-width="1.3" opacity="0.62"/>
<line x1="393.4" y1="1151.3" x2="397.8" y2="1151.3" stroke="#000" stroke-width="1.3" opacity="0.62"/>
<line x1="393.4" y1="1171.7" x2="397.8" y2="1171.7" stroke="#000" stroke-width="1.3" opacity="0.62"/>
<rect x="483.0" y="1161.0" width="42.3" height="117.0" fill="#7f7f7f"/>
<line x1="504.1" y1="1149.0" x2="504.1" y2="1171.7" stroke="#000" stroke-width="1.3" opacity="0.62"/>
<line x1="501.9" y1="1149.0" x2="506.3" y2="1149.0" stroke="#000" stroke-width="1.3" opacity="0.62"/>
<line x1="501.9" y1="1171.7" x2="506.3" y2="1171.7" stroke="#000" stroke-width="1.3" opacity="0.62"/>
<text x="179.5" y="1308.8" font-size="17.01" text-anchor="middle" fill="#151515" stroke="#151515" stroke-width="0.85" textLength="67.7" lengthAdjust="spacingAndGlyphs">HS VEH</text>
<text x="287.5" y="1308.8" font-size="17.01" text-anchor="middle" fill="#151515" stroke="#151515" stroke-width="0.85" textLength="62.0" lengthAdjust="spacingAndGlyphs">HS FLX</text>
<text x="395.0" y="1308.8" font-size="17.01" text-anchor="middle" fill="#151515" stroke="#151515" stroke-width="0.85" textLength="63.0" lengthAdjust="spacingAndGlyphs">LS VEH</text>
<text x="503.5" y="1308.8" font-size="17.01" text-anchor="middle" fill="#151515" stroke="#151515" stroke-width="0.85" textLength="58.0" lengthAdjust="spacingAndGlyphs">LS FLX</text>
<text transform="translate(69.7 1129.2) rotate(-90)" x="0" y="0" font-size="18.31" text-anchor="middle" fill="#111" font-weight="bold" stroke="#111" stroke-width="0.5" textLength="173.0" lengthAdjust="spacingAndGlyphs">Frequency of Sniffing</text>
<text x="285.7" y="1022.3" font-size="14.53" text-anchor="middle" fill="#151515" stroke="#151515" stroke-width="0.6" textLength="21.0" lengthAdjust="spacingAndGlyphs">##</text>
<text x="506.1" y="1135.9" font-size="15.99" text-anchor="middle" fill="#151515" stroke="#151515" stroke-width="0.6" letter-spacing="3.28">**</text>
</g>
<g id="panelH">
<line x1="784.3" y1="987.7" x2="784.3" y2="1283.7" stroke="#d4d4d4" stroke-width="1.15" />
<line x1="777.3" y1="1277.7" x2="1220.7" y2="1277.7" stroke="#d4d4d4" stroke-width="1.15" />
<line x1="777.3" y1="987.7" x2="784.3" y2="987.7" stroke="#d4d4d4" stroke-width="1.15" />
<text x="767.7" y="992.0" font-size="15.99" text-anchor="end" fill="#151515" stroke="#151515" stroke-width="0.65" textLength="26.1" lengthAdjust="spacingAndGlyphs">180</text>
<line x1="777.3" y1="1019.9" x2="784.3" y2="1019.9" stroke="#d4d4d4" stroke-width="1.15" />
<text x="767.7" y="1024.2" font-size="15.99" text-anchor="end" fill="#151515" stroke="#151515" stroke-width="0.65" textLength="26.1" lengthAdjust="spacingAndGlyphs">160</text>
<line x1="777.3" y1="1052.1" x2="784.3" y2="1052.1" stroke="#d4d4d4" stroke-width="1.15" />
<text x="767.7" y="1056.4" font-size="15.99" text-anchor="end" fill="#151515" stroke="#151515" stroke-width="0.65" textLength="26.1" lengthAdjust="spacingAndGlyphs">140</text>
<line x1="777.3" y1="1084.4" x2="784.3" y2="1084.4" stroke="#d4d4d4" stroke-width="1.15" />
<text x="767.7" y="1088.7" font-size="15.99" text-anchor="end" fill="#151515" stroke="#151515" stroke-width="0.65" textLength="26.1" lengthAdjust="spacingAndGlyphs">120</text>
<line x1="777.3" y1="1116.6" x2="784.3" y2="1116.6" stroke="#d4d4d4" stroke-width="1.15" />
<text x="767.7" y="1120.9" font-size="15.99" text-anchor="end" fill="#151515" stroke="#151515" stroke-width="0.65" textLength="26.1" lengthAdjust="spacingAndGlyphs">100</text>
<line x1="777.3" y1="1148.8" x2="784.3" y2="1148.8" stroke="#d4d4d4" stroke-width="1.15" />
<text x="767.7" y="1153.1" font-size="15.99" text-anchor="end" fill="#151515" stroke="#151515" stroke-width="0.65" textLength="17.4" lengthAdjust="spacingAndGlyphs">80</text>
<line x1="777.3" y1="1181.0" x2="784.3" y2="1181.0" stroke="#d4d4d4" stroke-width="1.15" />
<text x="767.7" y="1185.3" font-size="15.99" text-anchor="end" fill="#151515" stroke="#151515" stroke-width="0.65" textLength="17.4" lengthAdjust="spacingAndGlyphs">60</text>
<line x1="777.3" y1="1213.3" x2="784.3" y2="1213.3" stroke="#d4d4d4" stroke-width="1.15" />
<text x="767.7" y="1217.6" font-size="15.99" text-anchor="end" fill="#151515" stroke="#151515" stroke-width="0.65" textLength="17.4" lengthAdjust="spacingAndGlyphs">40</text>
<line x1="777.3" y1="1245.5" x2="784.3" y2="1245.5" stroke="#d4d4d4" stroke-width="1.15" />
<text x="767.7" y="1249.8" font-size="15.99" text-anchor="end" fill="#151515" stroke="#151515" stroke-width="0.65" textLength="17.4" lengthAdjust="spacingAndGlyphs">20</text>
<line x1="777.3" y1="1277.7" x2="784.3" y2="1277.7" stroke="#d4d4d4" stroke-width="1.15" />
<text x="767.7" y="1282.0" font-size="15.99" text-anchor="end" fill="#151515" stroke="#151515" stroke-width="0.65" textLength="8.7" lengthAdjust="spacingAndGlyphs">0</text>
<line x1="894.0" y1="1277.7" x2="894.0" y2="1283.7" stroke="#d4d4d4" stroke-width="1.15" />
<line x1="1002.3" y1="1277.7" x2="1002.3" y2="1283.7" stroke="#d4d4d4" stroke-width="1.15" />
<line x1="1112.0" y1="1277.7" x2="1112.0" y2="1283.7" stroke="#d4d4d4" stroke-width="1.15" />
<line x1="1220.7" y1="1277.7" x2="1220.7" y2="1283.7" stroke="#d4d4d4" stroke-width="1.15" />
<rect x="817.3" y="1024.7" width="42.7" height="252.7" fill="#404040"/>
<line x1="838.6" y1="1009.0" x2="838.6" y2="1040.7" stroke="#000" stroke-width="1.1" opacity="0.62"/>
<line x1="836.4" y1="1009.0" x2="840.9" y2="1009.0" stroke="#000" stroke-width="1.1" opacity="0.62"/>
<line x1="836.4" y1="1040.7" x2="840.9" y2="1040.7" stroke="#000" stroke-width="1.1" opacity="0.62"/>
<rect x="925.7" y="1118.3" width="43.3" height="159.1" fill="#000000"/>
<line x1="947.4" y1="1105.0" x2="947.4" y2="1118.3" stroke="#000" stroke-width="1.1" opacity="0.62"/>
<line x1="945.1" y1="1105.0" x2="949.6" y2="1105.0" stroke="#000" stroke-width="1.1" opacity="0.62"/>
<rect x="1035.0" y="1077.3" width="43.3" height="200.1" fill="#a6a6a6"/>
<line x1="1056.7" y1="1055.0" x2="1056.7" y2="1099.0" stroke="#000" stroke-width="1.1" opacity="0.62"/>
<line x1="1054.5" y1="1055.0" x2="1058.9" y2="1055.0" stroke="#000" stroke-width="1.1" opacity="0.62"/>
<line x1="1054.5" y1="1099.0" x2="1058.9" y2="1099.0" stroke="#000" stroke-width="1.1" opacity="0.62"/>
<rect x="1144.3" y="1087.0" width="43.0" height="190.4" fill="#7f7f7f"/>
<line x1="1165.8" y1="1060.0" x2="1165.8" y2="1114.3" stroke="#000" stroke-width="1.1" opacity="0.62"/>
<line x1="1163.6" y1="1060.0" x2="1168.0" y2="1060.0" stroke="#000" stroke-width="1.1" opacity="0.62"/>
<line x1="1163.6" y1="1114.3" x2="1168.0" y2="1114.3" stroke="#000" stroke-width="1.1" opacity="0.62"/>
<text x="838.8" y="1306.9" font-size="16.42" text-anchor="middle" fill="#151515" stroke="#151515" stroke-width="0.7" textLength="52.3" lengthAdjust="spacingAndGlyphs">HS VEH</text>
<text x="948.0" y="1306.9" font-size="16.42" text-anchor="middle" fill="#151515" stroke="#151515" stroke-width="0.7" textLength="47.0" lengthAdjust="spacingAndGlyphs">HS FLX</text>
<text x="1057.0" y="1306.9" font-size="16.42" text-anchor="middle" fill="#151515" stroke="#151515" stroke-width="0.7" textLength="48.0" lengthAdjust="spacingAndGlyphs">LS VEH</text>
<text x="1166.0" y="1306.9" font-size="16.42" text-anchor="middle" fill="#151515" stroke="#151515" stroke-width="0.7" textLength="43.0" lengthAdjust="spacingAndGlyphs">LS FLX</text>
<text transform="translate(732.1 1133.0) rotate(-90)" x="0" y="0" font-size="16.86" text-anchor="middle" fill="#111" font-weight="bold" stroke="#111" stroke-width="0.5" textLength="131.2" lengthAdjust="spacingAndGlyphs">Latency to eat (s)</text>
<text x="945.7" y="1086.0" font-size="12.35" text-anchor="middle" fill="#777" stroke="#777" stroke-width="0.6" textLength="16.0" lengthAdjust="spacingAndGlyphs">##</text>
</g>
<g id="panelI">
<line x1="1412.3" y1="971.7" x2="1412.3" y2="1302.0" stroke="#d2d2d2" stroke-width="1.2" />
<line x1="1402.8" y1="1296.0" x2="1878.3" y2="1296.0" stroke="#d2d2d2" stroke-width="1.2" />
<line x1="1402.8" y1="971.7" x2="1412.3" y2="971.7" stroke="#d2d2d2" stroke-width="1.2" />
<text x="1396.7" y="976.1" font-size="15.12" text-anchor="end" fill="#151515" stroke="#151515" stroke-width="0.55" textLength="17.6" lengthAdjust="spacingAndGlyphs">30</text>
<line x1="1402.8" y1="1025.8" x2="1412.3" y2="1025.8" stroke="#d2d2d2" stroke-width="1.2" />
<text x="1396.7" y="1030.2" font-size="15.12" text-anchor="end" fill="#151515" stroke="#151515" stroke-width="0.55" textLength="17.6" lengthAdjust="spacingAndGlyphs">25</text>
<line x1="1402.8" y1="1079.8" x2="1412.3" y2="1079.8" stroke="#d2d2d2" stroke-width="1.2" />
<text x="1396.7" y="1084.2" font-size="15.12" text-anchor="end" fill="#151515" stroke="#151515" stroke-width="0.55" textLength="17.6" lengthAdjust="spacingAndGlyphs">20</text>
<line x1="1402.8" y1="1133.8" x2="1412.3" y2="1133.8" stroke="#d2d2d2" stroke-width="1.2" />
<text x="1396.7" y="1138.2" font-size="15.12" text-anchor="end" fill="#151515" stroke="#151515" stroke-width="0.55" textLength="17.6" lengthAdjust="spacingAndGlyphs">15</text>
<line x1="1402.8" y1="1187.9" x2="1412.3" y2="1187.9" stroke="#d2d2d2" stroke-width="1.2" />
<text x="1396.7" y="1192.3" font-size="15.12" text-anchor="end" fill="#151515" stroke="#151515" stroke-width="0.55" textLength="17.6" lengthAdjust="spacingAndGlyphs">10</text>
<line x1="1402.8" y1="1242.0" x2="1412.3" y2="1242.0" stroke="#d2d2d2" stroke-width="1.2" />
<text x="1396.7" y="1246.4" font-size="15.12" text-anchor="end" fill="#151515" stroke="#151515" stroke-width="0.55" textLength="8.8" lengthAdjust="spacingAndGlyphs">5</text>
<line x1="1402.8" y1="1296.0" x2="1412.3" y2="1296.0" stroke="#d2d2d2" stroke-width="1.2" />
<text x="1396.7" y="1300.4" font-size="15.12" text-anchor="end" fill="#151515" stroke="#151515" stroke-width="0.55" textLength="8.8" lengthAdjust="spacingAndGlyphs">0</text>
<line x1="1535.0" y1="1296.0" x2="1535.0" y2="1302.0" stroke="#d2d2d2" stroke-width="1.2" />
<line x1="1657.7" y1="1296.0" x2="1657.7" y2="1302.0" stroke="#d2d2d2" stroke-width="1.2" />
<line x1="1780.7" y1="1296.0" x2="1780.7" y2="1302.0" stroke="#d2d2d2" stroke-width="1.2" />
<rect x="1448.3" y="1085.0" width="49.4" height="210.7" fill="#404040"/>
<line x1="1473.0" y1="1062.7" x2="1473.0" y2="1107.3" stroke="#000" stroke-width="1.1" opacity="0.62"/>
<line x1="1470.8" y1="1062.7" x2="1475.2" y2="1062.7" stroke="#000" stroke-width="1.1" opacity="0.62"/>
<line x1="1470.8" y1="1107.3" x2="1475.2" y2="1107.3" stroke="#000" stroke-width="1.1" opacity="0.62"/>
<rect x="1571.7" y="1091.7" width="49.0" height="204.0" fill="#000000"/>
<line x1="1596.2" y1="1080.7" x2="1596.2" y2="1091.7" stroke="#000" stroke-width="1.1" opacity="0.62"/>
<line x1="1594.0" y1="1080.7" x2="1598.4" y2="1080.7" stroke="#000" stroke-width="1.1" opacity="0.62"/>
<rect x="1695.0" y="1052.3" width="49.0" height="243.4" fill="#a6a6a6"/>
<line x1="1719.5" y1="1032.3" x2="1719.5" y2="1073.3" stroke="#000" stroke-width="1.1" opacity="0.62"/>
<line x1="1717.3" y1="1032.3" x2="1721.7" y2="1032.3" stroke="#000" stroke-width="1.1" opacity="0.62"/>
<line x1="1717.3" y1="1073.3" x2="1721.7" y2="1073.3" stroke="#000" stroke-width="1.1" opacity="0.62"/>
<rect x="1817.7" y="1065.7" width="49.0" height="230.0" fill="#7f7f7f"/>
<line x1="1842.2" y1="1058.3" x2="1842.2" y2="1073.3" stroke="#000" stroke-width="1.1" opacity="0.62"/>
<line x1="1840.0" y1="1058.3" x2="1844.4" y2="1058.3" stroke="#000" stroke-width="1.1" opacity="0.62"/>
<line x1="1840.0" y1="1073.3" x2="1844.4" y2="1073.3" stroke="#000" stroke-width="1.1" opacity="0.62"/>
<text x="1473.0" y="1321.6" font-size="13.95" text-anchor="middle" fill="#151515" stroke="#151515" stroke-width="0.7" textLength="49.4" lengthAdjust="spacingAndGlyphs">HS VEH</text>
<text x="1596.5" y="1321.6" font-size="13.95" text-anchor="middle" fill="#151515" stroke="#151515" stroke-width="0.7" textLength="44.5" lengthAdjust="spacingAndGlyphs">HS FLX</text>
<text x="1719.6" y="1321.6" font-size="13.95" text-anchor="middle" fill="#151515" stroke="#151515" stroke-width="0.7" textLength="45.2" lengthAdjust="spacingAndGlyphs">LS VEH</text>
<text x="1842.3" y="1321.6" font-size="13.95" text-anchor="middle" fill="#151515" stroke="#151515" stroke-width="0.7" textLength="41.3" lengthAdjust="spacingAndGlyphs">LS FLX</text>
<text transform="translate(1371.4 1134.7) rotate(-90)" x="0" y="0" font-size="14.53" text-anchor="middle" fill="#111" font-weight="bold" stroke="#111" stroke-width="0.5" textLength="264.1" lengthAdjust="spacingAndGlyphs">Duration of immobility between 4-6 mn</text>
</g>
</g>
<g id="panel-letters">
<text x="6.5" y="31.4" font-size="33.4" font-weight="bold" fill="#000">A</text>
<text x="665.5" y="31.4" font-size="33.4" font-weight="bold" fill="#000">B</text>
<text x="1329.2" y="31.6" font-size="33.4" font-weight="bold" fill="#000">C</text>
<text x="6.3" y="472.3" font-size="33.4" font-weight="bold" fill="#000">D</text>
<text x="666.4" y="472.3" font-size="33.4" font-weight="bold" fill="#000">E</text>
<text x="1331.6" y="472.3" font-size="33.4" font-weight="bold" fill="#000">F</text>
<text x="5.0" y="946.4" font-size="33.4" font-weight="bold" fill="#000">G</text>
<text x="665.4" y="946.2" font-size="33.4" font-weight="bold" fill="#000">H</text>
<text x="1331.1" y="946.2" font-size="33.4" font-weight="bold" fill="#000">I</text>
</g>
</svg></body></html>
